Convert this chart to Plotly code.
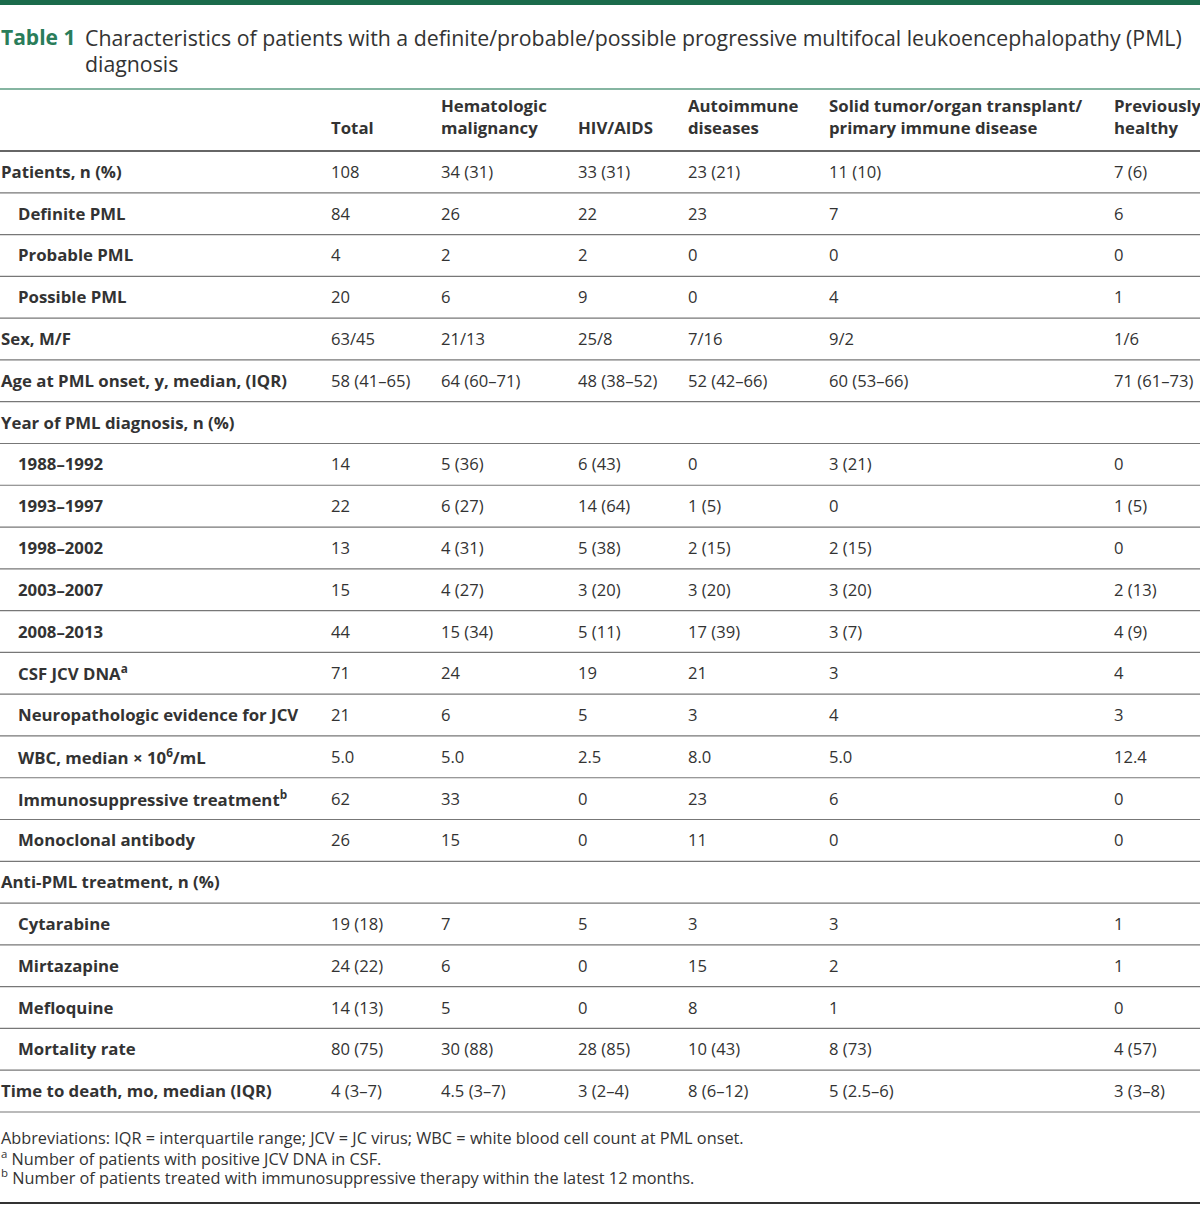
import plotly.graph_objects as go

title_label = "Table 1"
title_lines = ["Characteristics of patients with a definite/probable/possible progressive multifocal leukoencephalopathy (PML)",
               "diagnosis"]

col_headers = ["Total", "Hematologic<br>malignancy", "HIV/AIDS", "Autoimmune<br>diseases",
               "Solid tumor/organ transplant/<br>primary immune disease", "Previously<br>healthy"]

row_labels = [
    "Patients, n (%)", "Definite PML", "Probable PML", "Possible PML", "Sex, M/F",
    "Age at PML onset, y, median, (IQR)", "Year of PML diagnosis, n (%)",
    "1988–1992", "1993–1997", "1998–2002", "2003–2007", "2008–2013",
    "CSF JCV DNA<sup>a</sup>", "Neuropathologic evidence for JCV", "WBC, median × 10<sup>6</sup>/mL",
    "Immunosuppressive treatment<sup>b</sup>", "Monoclonal antibody", "Anti-PML treatment, n (%)",
    "Cytarabine", "Mirtazapine", "Mefloquine", "Mortality rate", "Time to death, mo, median (IQR)",
]
row_indent = [0, 1, 1, 1, 0, 0, 0, 1, 1, 1, 1, 1, 1, 1, 1, 1, 1, 0, 1, 1, 1, 1, 0]

total = ["108", "84", "4", "20", "63/45", "58 (41–65)", "", "14", "22", "13", "15", "44",
         "71", "21", "5.0", "62", "26", "", "19 (18)", "24 (22)", "14 (13)", "80 (75)", "4 (3–7)"]
hematologic = ["34 (31)", "26", "2", "6", "21/13", "64 (60–71)", "", "5 (36)", "6 (27)", "4 (31)", "4 (27)", "15 (34)",
               "24", "6", "5.0", "33", "15", "", "7", "6", "5", "30 (88)", "4.5 (3–7)"]
hiv = ["33 (31)", "22", "2", "9", "25/8", "48 (38–52)", "", "6 (43)", "14 (64)", "5 (38)", "3 (20)", "5 (11)",
       "19", "5", "2.5", "0", "0", "", "5", "0", "0", "28 (85)", "3 (2–4)"]
autoimmune = ["23 (21)", "23", "0", "0", "7/16", "52 (42–66)", "", "0", "1 (5)", "2 (15)", "3 (20)", "17 (39)",
              "21", "3", "8.0", "23", "11", "", "3", "15", "8", "10 (43)", "8 (6–12)"]
solid = ["11 (10)", "7", "0", "4", "9/2", "60 (53–66)", "", "3 (21)", "0", "2 (15)", "3 (20)", "3 (7)",
         "3", "4", "5.0", "6", "0", "", "3", "2", "1", "8 (73)", "5 (2.5–6)"]
healthy = ["7 (6)", "6", "0", "1", "1/6", "71 (61–73)", "", "0", "1 (5)", "0", "2 (13)", "4 (9)",
           "4", "3", "12.4", "0", "0", "", "1", "1", "0", "4 (57)", "3 (3–8)"]

footnotes = [
    "Abbreviations: IQR = interquartile range; JCV = JC virus; WBC = white blood cell count at PML onset.",
    "<sup>a</sup> Number of patients with positive JCV DNA in CSF.",
    "<sup>b</sup> Number of patients treated with immunosuppressive therapy within the latest 12 months.",
]

columns = [total, hematologic, hiv, autoimmune, solid, healthy]

W, H = 1200, 1205
FONT = "Open Sans"
TXT = "#333333"
GREEN_DARK = "#1b6b4b"
GREEN = "#2a7d5a"

col_x = [329, 439, 576, 686, 827, 1112]
label_x = 0
indent_x = 16
header_line_y = 151
row_h = (1112 - 151) / 23.0

fig = go.Figure()
fig.add_trace(go.Scatter(x=[0, W], y=[0, H], mode="markers", marker=dict(opacity=0), hoverinfo="skip", showlegend=False))

ann = []
shapes = []

# top bar
shapes.append(dict(type="rect", x0=0, x1=W, y0=0, y1=5, fillcolor=GREEN_DARK, line=dict(width=0), layer="above"))
# title
ann.append(dict(x=0, y=37, text="<b>" + title_label + "</b>", xanchor="left", yanchor="middle", xshift=-1,
                font=dict(family=FONT, size=21, color=GREEN), showarrow=False))
for k, tl in enumerate(title_lines):
    ann.append(dict(x=83, y=37 + 26 * k, text=tl, xanchor="left", yanchor="middle", align="left",
                    font=dict(family=FONT, size=21.3, color=TXT), showarrow=False))
shapes.append(dict(type="line", x0=0, x1=W, y0=89, y1=89, line=dict(color="#5c9c82", width=1.6)))

# headers
for cx, h in zip(col_x, col_headers):
    nlines = h.count("<br>") + 1
    yc = 127 - (nlines - 1) * 21 / 2
    ann.append(dict(x=cx, y=yc, text="<b>" + h + "</b>", xanchor="left", yanchor="middle", align="left",
                    font=dict(family=FONT, size=16.8, color=TXT), showarrow=False))
shapes.append(dict(type="line", x0=0, x1=W, y0=header_line_y, y1=header_line_y, line=dict(color="#333333", width=1.4)))

# rows
for i, lab in enumerate(row_labels):
    yc = header_line_y + row_h * (i + 0.5) - 0.5
    lx = indent_x if row_indent[i] else label_x
    ann.append(dict(x=lx, y=yc, text="<b>" + lab + "</b>", xanchor="left", yanchor="middle",
                    xshift=0 if row_indent[i] else -1,
                    font=dict(family=FONT, size=16.8, color=TXT), showarrow=False))
    for cx, col in zip(col_x, columns):
        if col[i]:
            ann.append(dict(x=cx, y=yc, text=col[i], xanchor="left", yanchor="middle",
                            font=dict(family=FONT, size=16.6, color=TXT), showarrow=False))
    ly = header_line_y + row_h * (i + 1)
    shapes.append(dict(type="line", x0=0, x1=W, y0=ly, y1=ly, line=dict(color="#777777", width=1.2)))

# footnotes
for j, fn in enumerate(footnotes):
    ann.append(dict(x=0, y=1138 + j * 19.5, text=fn, xanchor="left", yanchor="middle", xshift=-1,
                    font=dict(family=FONT, size=16.3, color=TXT), showarrow=False))
shapes.append(dict(type="line", x0=0, x1=W, y0=1203, y1=1203, line=dict(color="#333333", width=2)))

fig.update_layout(
    width=W, height=H, margin=dict(l=0, r=0, t=0, b=0),
    paper_bgcolor="white", plot_bgcolor="white",
    xaxis=dict(range=[0, W], visible=False, fixedrange=True),
    yaxis=dict(range=[H, 0], visible=False, fixedrange=True),
    annotations=ann, shapes=shapes, showlegend=False,
)
fig.write_html("out.html", config={"displayModeBar": False},
               post_script="document.body.style.margin='0';document.body.style.overflow='hidden';")
